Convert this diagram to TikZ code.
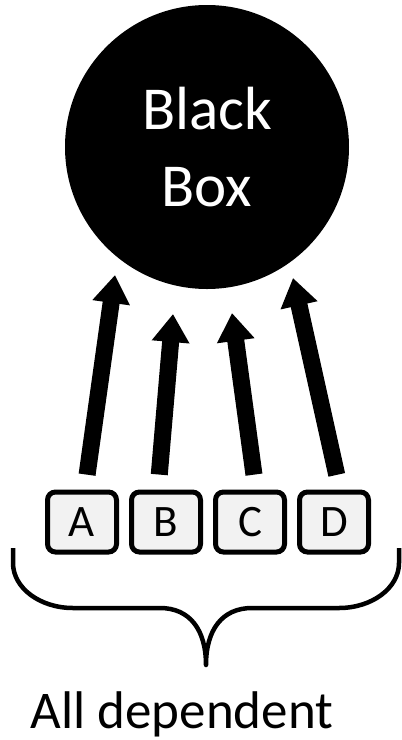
\documentclass[tikz,border=0pt]{standalone}
\usepackage{fontspec}
\setmainfont{Carlito}
\usetikzlibrary{arrows.meta}
\definecolor{boxgray}{RGB}{242,242,242}

\begin{document}
\begin{tikzpicture}[x=1pt, y=-1pt,
  var/.style={draw, line width=5pt, rounded corners=8pt, fill=boxgray, minimum width=69pt, minimum height=60pt, inner sep=0pt, font=\fontsize{45}{50}\selectfont},
  dep/.style={line width=17pt, -{Triangle[length=28pt, width=36pt]}, shorten <=15pt}]
  \useasboundingbox (0,0) rectangle (402,740);

  % Black box
  \node[circle, fill=black, minimum size=284pt, inner sep=0pt, text=white, align=center, font=\fontsize{61}{77}\selectfont] (blackbox) at (207,147) {Black\\Box};

  % Variables
  \node[var] (varA) at (82,522) {A};
  \node[var] (varB) at (166,522) {B};
  \node[var] (varC) at (250,522) {C};
  \node[var] (varD) at (334,522) {D};

  % Arrows into the black box
  \coordinate (tipA) at (115,275);
  \coordinate (tipB) at (173,314);
  \coordinate (tipC) at (232,313);
  \coordinate (tipD) at (293,278);
  \draw[dep] ([xshift=3pt]varA.north) -- (tipA);
  \draw[dep] ([xshift=-8pt]varB.north) -- (tipB);
  \draw[dep] ([xshift=6pt]varC.north) -- (tipC);
  \draw[dep] ([xshift=6pt]varD.north) -- (tipD);

  % Brace under the variables
  \draw[line width=4.5pt, line join=round]
    (13,548) -- (13,563) .. controls (13,588) and (40,608) .. (73,608) -- (160,608)
    .. controls (190,608) and (206,630) .. (206,665)
    .. controls (206,630) and (222,608) .. (252,608) -- (339,608)
    .. controls (372,608) and (399,588) .. (399,563) -- (399,548);

  \node[anchor=base, font=\fontsize{53}{60}\selectfont] (label) at (182,728) {All dependent};
\end{tikzpicture}
\end{document}
